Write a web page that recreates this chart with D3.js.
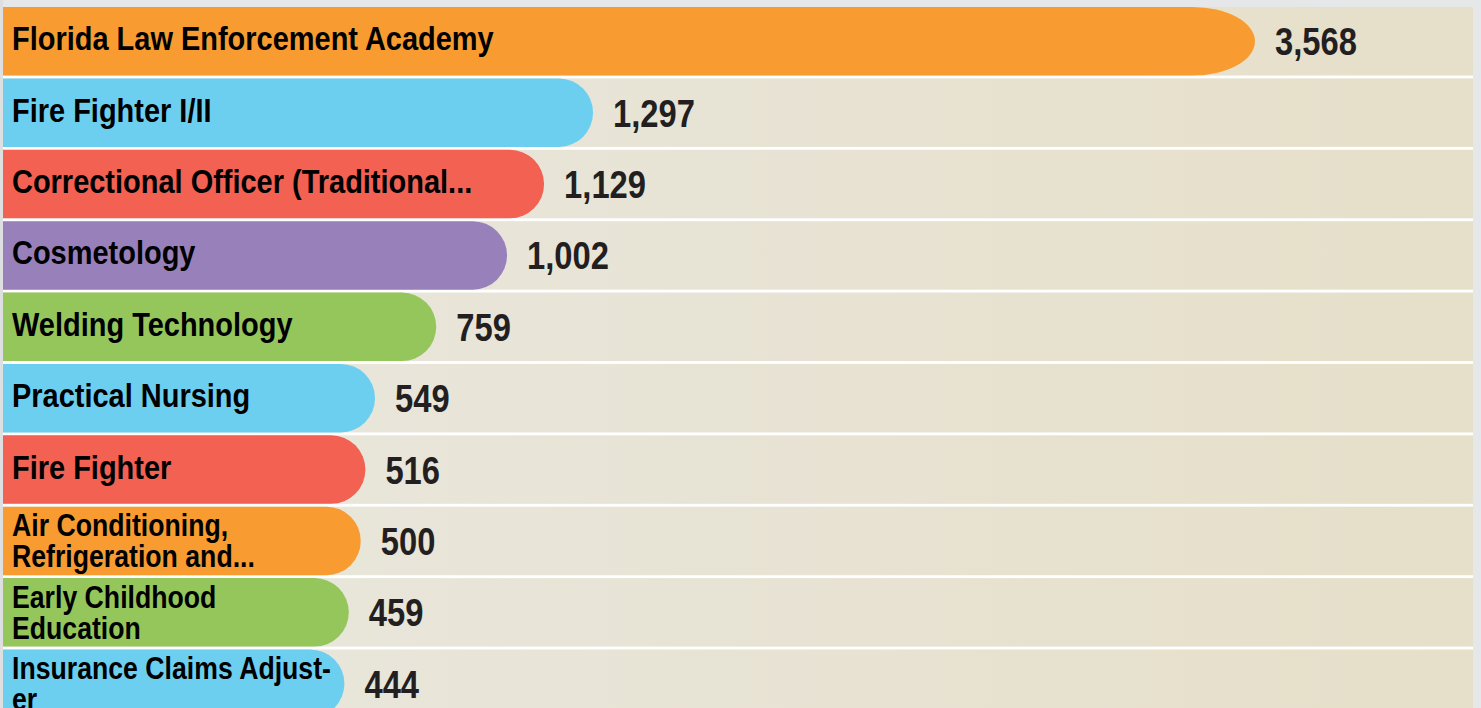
<!DOCTYPE html>
<html>
<head>
<meta charset="utf-8">
<script src="https://cdn.jsdelivr.net/npm/d3@7"></script>
<style>
  html, body { margin: 0; padding: 0; background: #fff; }
  #chart svg { display: block; }
  .cat { font-family: 'Liberation Sans', Arial, sans-serif; font-weight: bold; fill: #000; }
  .val { font-family: 'Liberation Sans', Arial, sans-serif; font-weight: bold; fill: #231f20; }
</style>
</head>
<body>
<div id="chart"></div>
<script>
/** Data **/
const programs = [
  'Florida Law Enforcement Academy',
  'Fire Fighter I/II',
  'Correctional Officer (Traditional...',
  'Cosmetology',
  'Welding Technology',
  'Practical Nursing',
  'Fire Fighter',
  'Air Conditioning,|Refrigeration and...',
  'Early Childhood|Education',
  'Insurance Claims Adjust-|er'
];
const completers = [3568, 1297, 1129, 1002, 759, 549, 516, 500, 459, 444];
const barColors = ['#f89c31', '#6dcff0', '#f26152', '#9881bb', '#95c65b',
  '#6dcff0', '#f26152', '#f89c31', '#95c65b', '#6dcff0'];

const data = programs.map((p, i) => ({ name: p, value: completers[i], color: barColors[i] }));

/** Svg **/
const width = 1481;
const height = 708;
const left = 3;
const rowRight = 1473;
const narrowCat = 0.86; // condensed look: Arial metrics squeezed horizontally
const narrowVal = 0.84;

const svg = d3
  .select('#chart')
  .append('svg')
  .attr('width', width)
  .attr('height', height);

const defs = svg.append('defs');
const grad = defs.append('linearGradient').attr('id', 'rowfill');
grad.append('stop').attr('offset', '0%').attr('stop-color', '#e9e7df');
grad.append('stop').attr('offset', '100%').attr('stop-color', '#e6dfc9');

// grey frame strips
svg.append('rect').attr('x', 0).attr('y', 0).attr('width', width).attr('height', 7).attr('fill', '#e6e7e9');
svg.append('rect').attr('x', rowRight).attr('y', 0).attr('width', width - rowRight).attr('height', height).attr('fill', '#e6e7e9');
svg.append('rect').attr('x', 0).attr('y', 0).attr('width', left).attr('height', height).attr('fill', '#dedfe1');

/** Scales **/
const y = d3.scaleBand().domain(programs).range([7, 718]).paddingInner(0.04);
// bars start with a base length, then grow with the value
const x = d3.scaleLinear().domain([0, d3.max(completers)]).range([215, 1255]);

/** Rows **/
svg.append('g')
  .selectAll('rect')
  .data(data)
  .join('rect')
  .attr('x', left)
  .attr('y', (d) => y(d.name))
  .attr('width', rowRight - left)
  .attr('height', y.bandwidth())
  .attr('fill', 'url(#rowfill)');

/** Bars with rounded right end **/
function barPath(d) {
  const y0 = y(d.name);
  const h = y.bandwidth();
  const xe = x(d.value);
  const ry = h / 2;
  const rx = Math.max(ry, (xe - left) * 0.05);
  return `M${left},${y0}H${xe - rx}A${rx},${ry} 0 0 1 ${xe - rx},${y0 + h}H${left}Z`;
}

svg.append('g')
  .selectAll('path')
  .data(data)
  .join('path')
  .attr('d', barPath)
  .attr('fill', (d) => d.color);

/** Category labels **/
const labels = svg.append('g')
  .selectAll('text')
  .data(data)
  .join('text')
  .attr('class', 'cat')
  .attr('transform', (d) => `translate(12, ${y(d.name) + y.bandwidth() / 2}) scale(${narrowCat}, 1)`)
  .style('font-size', (d) => (d.name.includes('|') ? '31px' : '33.7px'));

labels.each(function (d) {
  const lines = d.name.split('|');
  const t = d3.select(this);
  const lh = 31;
  lines.forEach((line, i) => {
    t.append('tspan')
      .attr('x', 0)
      .attr('dy', i === 0 ? (-(lines.length - 1) * lh / 2 + (lines.length > 1 ? 11 : 9)) + 'px' : lh + 'px')
      .text(line);
  });
});

/** Value labels **/
svg.append('g')
  .selectAll('text')
  .data(data)
  .join('text')
  .attr('class', 'val')
  .attr('transform', (d) => `translate(${x(d.value) + 20}, ${y(d.name) + y.bandwidth() / 2 + 14}) scale(${narrowVal}, 1)`)
  .style('font-size', '39px')
  .text((d) => d3.format(',')(d.value));
</script>
</body>
</html>
